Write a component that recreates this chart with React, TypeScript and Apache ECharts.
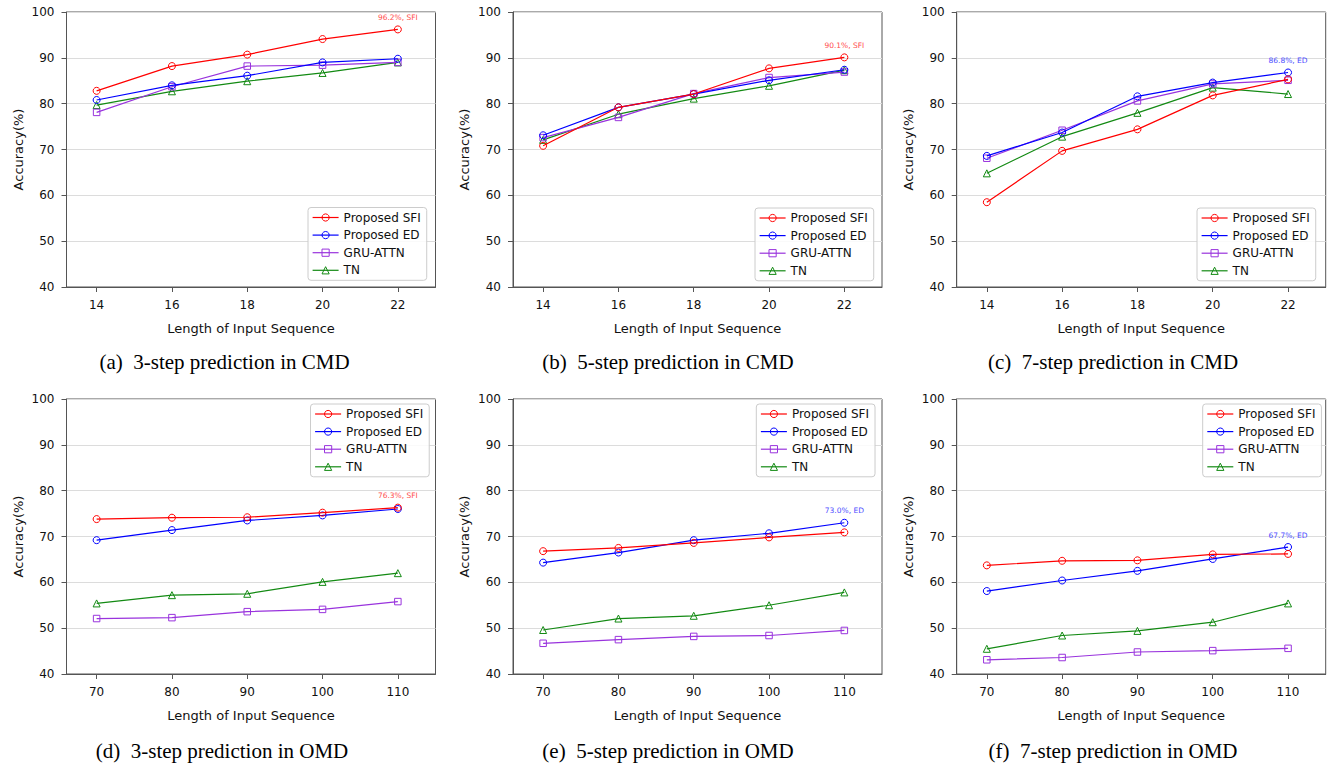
import React, { useEffect, useRef } from 'react';
import * as echarts from 'echarts';

const SERIES_NAMES = ['Proposed SFI', 'Proposed ED', 'GRU-ATTN', 'TN'];
const SHORT_NAMES = ['SFI', 'ED', 'GRU', 'TN'];
const X_CMD = [14, 16, 18, 20, 22];
const X_OMD = [70, 80, 90, 100, 110];

// (a) 3-step CMD
const A_SFI = [82.8, 88.2, 90.7, 94.1, 96.2];
const A_ED = [80.8, 84.0, 86.1, 89.0, 89.8];
const A_GRU = [78.1, 83.7, 88.2, 88.4, 89.0];
const A_TN = [79.7, 82.7, 84.9, 86.7, 89.0];
// (b) 5-step CMD
const B_SFI = [70.8, 79.2, 82.1, 87.7, 90.1];
const B_ED = [73.1, 79.2, 82.1, 85.1, 87.4];
const B_GRU = [72.6, 77.0, 82.2, 85.7, 86.9];
const B_TN = [72.1, 77.7, 81.1, 83.9, 87.3];
// (c) 7-step CMD
const C_SFI = [58.5, 69.7, 74.4, 81.8, 85.3];
const C_ED = [68.6, 73.7, 81.6, 84.6, 86.8];
const C_GRU = [68.1, 74.2, 80.6, 84.3, 85.1];
const C_TN = [64.8, 72.8, 78.0, 83.5, 82.1];
// (d) 3-step OMD
const D_SFI = [73.8, 74.1, 74.2, 75.2, 76.3];
const D_ED = [69.2, 71.4, 73.5, 74.6, 76.0];
const D_GRU = [52.1, 52.3, 53.6, 54.1, 55.8];
const D_TN = [55.4, 57.2, 57.5, 60.1, 62.0];
// (e) 5-step OMD
const E_SFI = [66.8, 67.5, 68.6, 69.8, 70.9];
const E_ED = [64.3, 66.5, 69.2, 70.7, 73.0];
const E_GRU = [46.7, 47.5, 48.2, 48.4, 49.5];
const E_TN = [49.6, 52.1, 52.7, 55.0, 57.8];
// (f) 7-step OMD
const F_SFI = [63.7, 64.7, 64.8, 66.1, 66.2];
const F_ED = [58.1, 60.4, 62.5, 65.1, 67.7];
const F_GRU = [43.1, 43.6, 44.8, 45.1, 45.6];
const F_TN = [45.5, 48.4, 49.4, 51.3, 55.4];

const CAPTIONS = [
  '(a)  3-step prediction in CMD',
  '(b)  5-step prediction in CMD',
  '(c)  7-step prediction in CMD',
  '(d)  3-step prediction in OMD',
  '(e)  5-step prediction in OMD',
  '(f)  7-step prediction in OMD',
];
// which series carries the annotation in each panel (0 = SFI, 1 = ED)
const ANNOTATED = [0, 0, 1, 0, 1, 1];

const COLORS = ['#ff0000', '#0000ff', '#9933dd', '#138a13'];
const LABEL_COLORS = ['#ff4d4d', '#4d4dff', '#9933dd', '#138a13'];
const SYMBOLS = ['circle', 'circle', 'rect', 'triangle'];
const SYMBOL_SIZES = [7, 7, 6.5, 7];

const FONT = '"DejaVu Sans", sans-serif';

const COL_LEFT = [66.5, 513, 956.7];
const ROW_TOP = [12, 399];
const GRID_W = 369;
const GRID_H = 275;

const PANELS = [
  { x: X_CMD, data: [A_SFI, A_ED, A_GRU, A_TN], row: 0, col: 0, legend: { left: 308, top: 207.5 }, cap: { x: 224.5, y: 362 } },
  { x: X_CMD, data: [B_SFI, B_ED, B_GRU, B_TN], row: 0, col: 1, legend: { left: 755, top: 208 }, cap: { x: 668, y: 362 } },
  { x: X_CMD, data: [C_SFI, C_ED, C_GRU, C_TN], row: 0, col: 2, legend: { left: 1197, top: 208 }, cap: { x: 1113, y: 362 } },
  { x: X_OMD, data: [D_SFI, D_ED, D_GRU, D_TN], row: 1, col: 0, legend: { left: 310.5, top: 404 }, cap: { x: 222, y: 751 } },
  { x: X_OMD, data: [E_SFI, E_ED, E_GRU, E_TN], row: 1, col: 1, legend: { left: 756.3, top: 404 }, cap: { x: 668, y: 751 } },
  { x: X_OMD, data: [F_SFI, F_ED, F_GRU, F_TN], row: 1, col: 2, legend: { left: 1202.7, top: 404 }, cap: { x: 1113, y: 751 } },
];

function buildOption() {
  const grid: any[] = [];
  const xAxis: any[] = [];
  const yAxis: any[] = [];
  const series: any[] = [];
  const legend: any[] = [];
  const graphic: any[] = [];

  PANELS.forEach((p, i) => {
    const isCMD = p.row === 0;
    grid.push({
      left: COL_LEFT[p.col],
      top: ROW_TOP[p.row],
      width: GRID_W,
      height: GRID_H,
      show: true,
      borderColor: '#555',
      borderWidth: 1,
      backgroundColor: 'transparent',
    });
    xAxis.push({
      type: 'value',
      gridIndex: i,
      min: isCMD ? 13.2 : 66,
      max: isCMD ? 23 : 115,
      name: 'Length of Input Sequence',
      nameLocation: 'middle',
      nameGap: 35,
      nameTextStyle: { fontFamily: FONT, fontSize: 13, color: '#111' },
      axisLine: { show: true, lineStyle: { color: '#555', width: 1 } },
      axisTick: { show: true, length: 5, lineStyle: { color: '#555' }, customValues: p.x },
      axisLabel: { fontFamily: FONT, fontSize: 12, color: '#111', margin: 12, customValues: p.x },
      splitLine: { show: false },
    });
    yAxis.push({
      type: 'value',
      gridIndex: i,
      min: 40,
      max: 100,
      interval: 10,
      name: 'Accuracy(%)',
      nameLocation: 'middle',
      nameGap: 42,
      nameTextStyle: { fontFamily: FONT, fontSize: 13, color: '#111' },
      axisLine: { show: true, lineStyle: { color: '#555', width: 1 } },
      axisTick: { show: true, length: 5, lineStyle: { color: '#555' } },
      axisLabel: { fontFamily: FONT, fontSize: 12, color: '#111', margin: 12 },
      splitLine: { show: true, lineStyle: { color: '#dcdcdc', width: 1 } },
    });
    p.data.forEach((vals, k) => {
      const last = vals.length - 1;
      series.push({
        type: 'line',
        name: SERIES_NAMES[k],
        xAxisIndex: i,
        yAxisIndex: i,
        symbol: SYMBOLS[k],
        symbolSize: SYMBOL_SIZES[k],
        showSymbol: true,
        z: 10 - k,
        lineStyle: { color: COLORS[k], width: 1.2 },
        itemStyle: { color: 'rgba(255,255,255,0)', borderColor: COLORS[k], borderWidth: 1 },
        emphasis: { disabled: true },
        data: vals.map((v, j) => {
          if (j === last && ANNOTATED[i] === k) {
            return {
              value: [p.x[j], v],
              label: {
                show: true,
                position: 'top',
                distance: 4,
                formatter: `${v.toFixed(1)}%, ${SHORT_NAMES[k]}`,
                fontFamily: FONT,
                fontSize: 7.5,
                color: LABEL_COLORS[k],
              },
            };
          }
          return [p.x[j], v];
        }),
      });
    });
    legend.push({
      orient: 'vertical',
      left: p.legend.left,
      top: p.legend.top,
      data: SERIES_NAMES,
      itemWidth: 26,
      itemHeight: 9,
      itemGap: 3.6,
      padding: [3, 6, 3, 4],
      borderColor: '#cccccc',
      borderWidth: 1,
      borderRadius: 3,
      backgroundColor: 'rgba(255,255,255,0.85)',
      selectedMode: false,
      lineStyle: { width: 1.2 },
      itemStyle: { borderWidth: 1 },
      textStyle: { fontFamily: FONT, fontSize: 12, color: '#111', lineHeight: 14 },
    });
    graphic.push({
      type: 'text',
      x: p.cap.x,
      y: p.cap.y,
      style: {
        text: CAPTIONS[i],
        font: '21px "Liberation Serif", "Times New Roman", serif',
        fill: '#000',
        align: 'center',
        verticalAlign: 'middle',
        textAlign: 'center',
        textVerticalAlign: 'middle',
      },
    });
  });

  return {
    animation: false,
    backgroundColor: '#ffffff',
    grid,
    xAxis,
    yAxis,
    series,
    legend,
    graphic,
  };
}

export default function App() {
  const ref = useRef<HTMLDivElement>(null);
  useEffect(() => {
    if (!ref.current) return;
    const chart = echarts.init(ref.current, null, { renderer: 'svg' });
    chart.setOption(buildOption() as any);
    return () => chart.dispose();
  }, []);
  return (
    <div
      ref={ref}
      style={{ position: 'fixed', left: 0, top: 0, width: 1332, height: 766, background: '#fff' }}
    />
  );
}
